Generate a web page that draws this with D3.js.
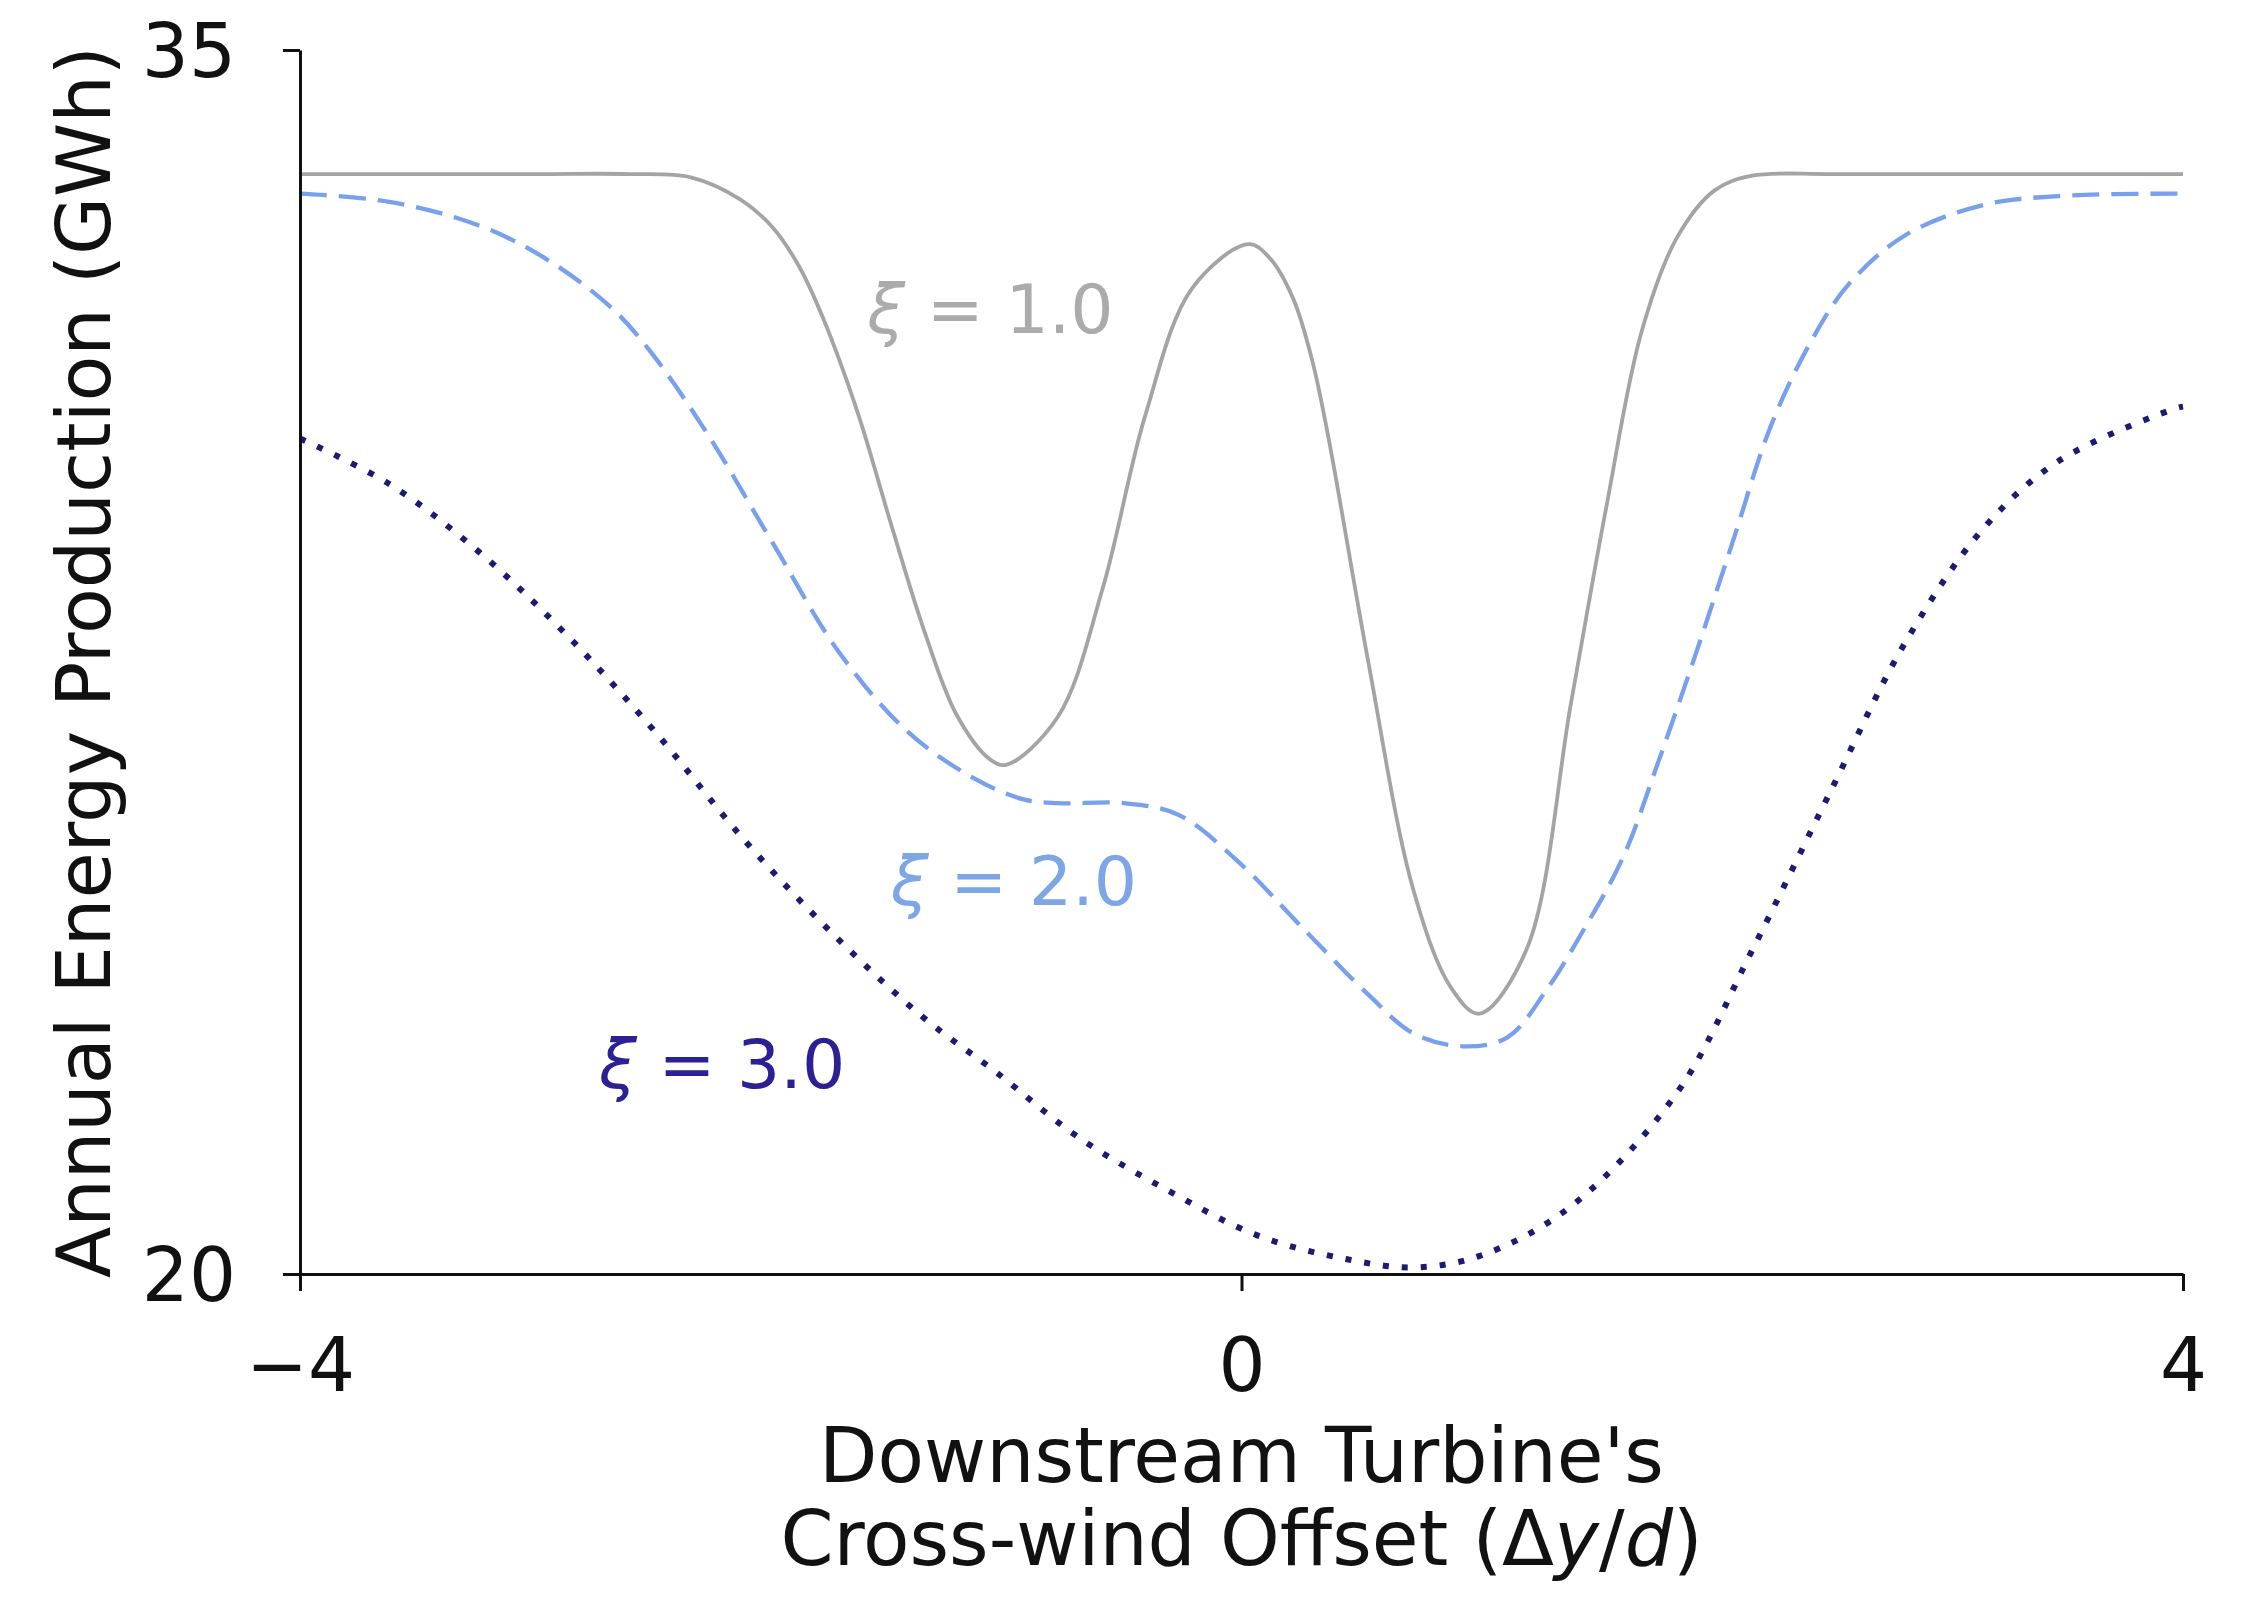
<!DOCTYPE html>
<html>
<head>
<meta charset="utf-8">
<script src="https://cdn.jsdelivr.net/npm/d3@7"></script>
<style>
  html, body { margin: 0; padding: 0; background: #ffffff; }
  svg { display: block; }
  text { font-family: "DejaVu Sans", sans-serif; }
</style>
</head>
<body>
<script>
// Cross-wind offset of the downstream turbine (Δy/d) and annual energy production (GWh)

// ξ = 1.0 (solid grey)
const offsetXi1 = [-4, -3, -2.6, -2.34, -2.13, -1.99, -1.88, -1.78, -1.63, -1.49, -1.35, -1.21,
  -1.07, -1.0, -0.78, -0.59, -0.41, -0.21, 0.03, 0.12, 0.22, 0.30, 0.37, 0.54, 0.73, 0.89, 1.01,
  1.21, 1.40, 1.55, 1.70, 1.85, 2.01, 2.17, 2.5, 3, 4];
const aepXi1 = [33.48, 33.48, 33.48, 33.44, 33.17, 32.82, 32.35, 31.73, 30.55, 29.2, 27.9, 26.85,
  26.31, 26.24, 26.83, 28.4, 30.51, 32.08, 32.62, 32.45, 31.95, 31.2, 30.24, 27.48, 24.71, 23.51,
  23.19, 23.97, 27.0, 29.4, 31.55, 32.7, 33.28, 33.46, 33.48, 33.48, 33.48];

// ξ = 2.0 (dashed blue)
const offsetXi2 = [-4, -3.62, -3.24, -2.96, -2.68, -2.51, -2.27, -1.99, -1.71, -1.42, -1.14,
  -0.93, -0.78, -0.5, -0.27, -0.02, 0.26, 0.54, 0.73, 0.94, 1.13, 1.30, 1.45, 1.62, 1.77, 1.93,
  2.09, 2.25, 2.42, 2.58, 2.82, 3.15, 3.47, 4];
const aepXi2 = [33.24, 33.14, 32.85, 32.45, 31.85, 31.3, 30.3, 28.95, 27.62, 26.65, 26.08,
  25.82, 25.77, 25.77, 25.63, 25.07, 24.24, 23.42, 22.95, 22.79, 22.9, 23.5, 24.2, 25.1, 26.27, 27.6,
  29.0, 30.4, 31.43, 32.13, 32.73, 33.1, 33.21, 33.24];

// ξ = 3.0 (dotted navy)
const offsetXi3 = [-4, -3.62, -3.24, -2.87, -2.49, -2.11, -1.73, -1.35, -1.05, -0.69, -0.31, 0.07,
  0.45, 0.73, 1.02, 1.40, 1.85, 2.17, 2.5, 2.82, 3.15, 3.47, 3.96, 4];
const aepXi3 = [30.24, 29.68, 28.85, 27.84, 26.64, 25.31, 24.15, 23.14, 22.49, 21.67, 21.02, 20.47,
  20.18, 20.08, 20.23, 20.83, 22.22, 23.97, 25.9, 27.74, 29.13, 29.96, 30.6, 30.63];

// Axis ticks
const xTicks = [-4, 0, 4];
const yTicks = [20, 35];

// In-plot labels: text and anchor position in data units
const labelText = ["1.0", "2.0", "3.0"];
const labelX = [-1.59, -1.49, -2.73];
const labelY = [31.53, 24.52, 22.28];

const colors = ["#a4a4a4", "#78a0ec", "#1e1a72"];
const labelColors = ["#ababab", "#7ea6e6", "#2b2094"];

const W = 2255, H = 1600;
const margin = { left: 300, right: W - 2183, top: 50, bottom: H - 1274 };

const svg = d3.select("body").append("svg")
  .attr("width", W).attr("height", H);

const x = d3.scaleLinear().domain([-4, 4]).range([margin.left, W - margin.right]);
const y = d3.scaleLinear().domain([20, 35]).range([H - margin.bottom, margin.top]);

const series = [
  { xs: offsetXi1, ys: aepXi1, color: colors[0], width: 3.8, dash: null },
  { xs: offsetXi2, ys: aepXi2, color: colors[1], width: 4.3, dash: "27,12" },
  { xs: offsetXi3, ys: aepXi3, color: colors[2], width: 6, dash: "6,13" }
];

const line = d3.line()
  .x(d => x(d[0]))
  .y(d => y(d[1]))
  .curve(d3.curveCatmullRom.alpha(0.5));

svg.append("g").selectAll("path")
  .data(series)
  .join("path")
  .attr("d", s => line(s.xs.map((v, i) => [v, s.ys[i]])))
  .attr("fill", "none")
  .attr("stroke", s => s.color)
  .attr("stroke-width", s => s.width)
  .attr("stroke-dasharray", s => s.dash)
  .attr("stroke-linecap", "butt")
  .attr("stroke-linejoin", "round");

// Axes
const fmt = d => (d < 0 ? "\u2212" + Math.abs(d) : String(d));

const xAxis = svg.append("g")
  .attr("transform", `translate(0,${H - margin.bottom})`)
  .call(d3.axisBottom(x).tickValues(xTicks).tickFormat(fmt)
    .tickSize(17).tickSizeOuter(0).tickPadding(47));

const yAxis = svg.append("g")
  .attr("transform", `translate(${margin.left},0)`)
  .call(d3.axisLeft(y).tickValues(yTicks).tickFormat(fmt)
    .tickSize(17).tickSizeOuter(0).tickPadding(47));

[xAxis, yAxis].forEach(g => {
  g.select(".domain").attr("stroke", "#111").attr("stroke-width", 3);
  g.selectAll(".tick line").attr("stroke", "#111").attr("stroke-width", 3);
  g.selectAll(".tick text")
    .attr("fill", "#111")
    .style("font-family", "'DejaVu Sans', sans-serif")
    .style("font-size", "74px");
});
yAxis.selectAll(".tick text").attr("dy", "0.36em");

// Axis titles
svg.append("text")
  .attr("transform", `translate(110,${(y(20) + y(35)) / 2}) rotate(-90)`)
  .attr("text-anchor", "middle")
  .attr("fill", "#111")
  .style("font-size", "75px")
  .text("Annual Energy Production (GWh)");

const xTitle = svg.append("text")
  .attr("text-anchor", "middle")
  .attr("fill", "#111")
  .style("font-size", "76px");
xTitle.append("tspan")
  .attr("x", (x(-4) + x(4)) / 2).attr("y", 1482)
  .text("Downstream Turbine's");
const l2 = xTitle.append("tspan")
  .attr("x", (x(-4) + x(4)) / 2).attr("y", 1565);
l2.append("tspan").text("Cross-wind Offset (\u0394");
l2.append("tspan").style("font-style", "italic").text("y");
l2.append("tspan").text("/");
l2.append("tspan").style("font-style", "italic").text("d");
l2.append("tspan").text(")");

// In-plot curve labels
labelText.forEach((t, i) => {
  const lab = svg.append("text")
    .attr("x", x(labelX[i]))
    .attr("y", y(labelY[i]))
    .attr("fill", labelColors[i])
    .style("font-size", "68px");
  lab.append("tspan").style("font-style", "italic").text("\u03BE");
  lab.append("tspan").text(" = " + t);
});
</script>
</body>
</html>
